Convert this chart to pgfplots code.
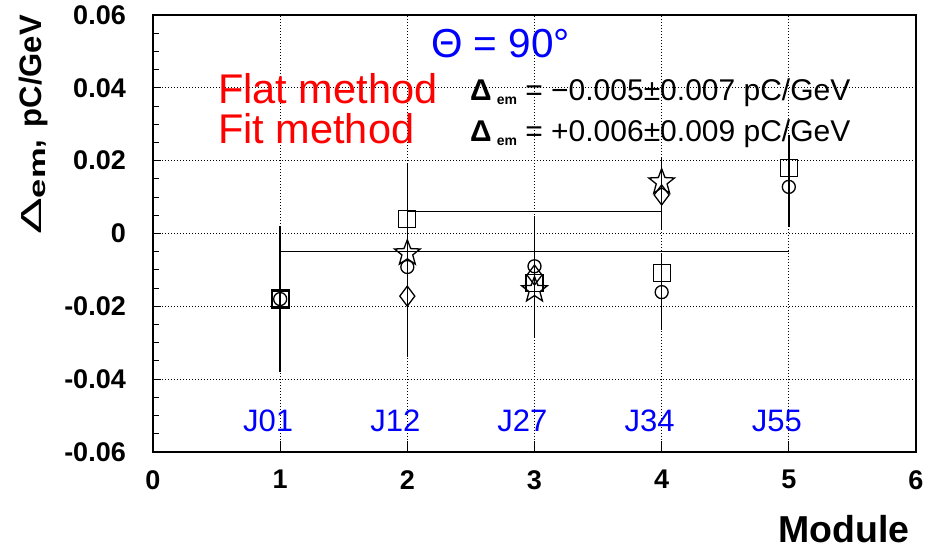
\documentclass[border=0pt]{standalone}
\usepackage{fontspec}
\setmainfont{Liberation Sans}
\usepackage{graphicx}
\usepackage{pgfplots}
\pgfplotsset{compat=1.18}

\definecolor{txtred}{RGB}{255,0,0}
\definecolor{txtblue}{RGB}{0,0,255}

% open five-pointed star
\pgfdeclareplotmark{ostar}{%
  \pgfpathmoveto{\pgfpointpolar{90}{\pgfplotmarksize}}%
  \pgfpathlineto{\pgfpointpolar{126}{0.42\pgfplotmarksize}}%
  \pgfpathlineto{\pgfpointpolar{162}{\pgfplotmarksize}}%
  \pgfpathlineto{\pgfpointpolar{198}{0.42\pgfplotmarksize}}%
  \pgfpathlineto{\pgfpointpolar{234}{\pgfplotmarksize}}%
  \pgfpathlineto{\pgfpointpolar{270}{0.42\pgfplotmarksize}}%
  \pgfpathlineto{\pgfpointpolar{306}{\pgfplotmarksize}}%
  \pgfpathlineto{\pgfpointpolar{342}{0.42\pgfplotmarksize}}%
  \pgfpathlineto{\pgfpointpolar{18}{\pgfplotmarksize}}%
  \pgfpathlineto{\pgfpointpolar{54}{0.42\pgfplotmarksize}}%
  \pgfpathclose\pgfusepathqstroke}
% open diamond, taller than wide
\pgfdeclareplotmark{odiamond}{%
  \pgfpathmoveto{\pgfqpoint{0pt}{\pgfplotmarksize}}%
  \pgfpathlineto{\pgfqpoint{0.75\pgfplotmarksize}{0pt}}%
  \pgfpathlineto{\pgfqpoint{0pt}{-\pgfplotmarksize}}%
  \pgfpathlineto{\pgfqpoint{-0.75\pgfplotmarksize}{0pt}}%
  \pgfpathclose\pgfusepathqstroke}

\pgfplotsset{
  ebar/.style={error bars/.cd, y dir=both, y explicit, error mark=none,
    error bar style={line width=1.6pt, black}},
}
\tikzset{
  modname/.style={anchor=base west, inner sep=0pt, text=txtblue, font=\fontsize{31}{31}\selectfont},
}

\begin{document}
\begin{tikzpicture}
\begin{axis}[
  scale only axis, width=763pt, height=437pt,
  xmin=0, xmax=6, ymin=-0.06, ymax=0.06,
  scaled y ticks=false, scaled x ticks=false,
  xtick={0,1,2,3,4,5,6}, xticklabels={0,1,2,3,4,5,6},
  ytick={-0.06,-0.04,-0.02,0,0.02,0.04,0.06},
  yticklabels={-0.06,-0.04,-0.02,0,0.02,0.04,0.06},
  minor y tick num=3,
  xtick pos=bottom, ytick pos=left,
  tick align=inside,
  xtick style={/pgfplots/major tick length=11pt},
  ytick style={/pgfplots/major tick length=8pt, /pgfplots/minor tick length=6pt},
  tick style={black, line width=1pt},
  grid=major,
  major grid style={black, line width=0.8pt, dash pattern=on 0.9pt off 2.1pt},
  axis line style={line width=1.8pt},
  yticklabel style={font=\bfseries\fontsize{27}{27}\selectfont, anchor=east, inner sep=0pt, xshift=-27pt},
  xticklabel style={font=\bfseries\fontsize{27}{27}\selectfont, anchor=north, inner sep=0pt, yshift=-18pt},
  clip=false,
]
\coordinate (sw) at (rel axis cs:0,0);

% mean values of the two methods
\addplot[black, line width=1pt] coordinates {(1,-0.005) (5,-0.005)};
\addplot[black, line width=1pt] coordinates {(2,0.006) (4,0.006)};

% squares
\addplot[black, only marks, mark=square, mark size=8.5pt,
  mark options={solid, line width=1.3pt, fill=none}, ebar] coordinates {
  (1,-0.018) +- (0,0.020)
  (2,0.004)  +- (0,0.015)
  (3,-0.0136) += (0,0.0184) -= (0,0.0151)
  (4,-0.0108) += (0,0.0054) -= (0,0.0157)
  (5,0.018)  += (0,0.009) -= (0,0.0162)
};
\addplot[black, only marks, mark=square, mark size=8.5pt,
  mark options={solid, line width=2.2pt, fill=none}] coordinates {(1,-0.018)};

% diamonds
\addplot[black, only marks, mark=odiamond, mark size=10pt,
  mark options={solid, line width=1.3pt, fill=none}, ebar] coordinates {
  (2,-0.0172) += (0,0.0172) -= (0,0.0167)
  (3,-0.0114) +- (0,0)
  (4,0.0106) += (0,0.0104) -= (0,0.0096)
};

% circles
\addplot[black, only marks, mark=o, mark size=6.5pt,
  mark options={solid, line width=1.3pt}] coordinates {
  (1,-0.018) (2,-0.0092) (3,-0.009) (4,-0.0161) (5,0.0128)
};

% stars
\addplot[black, only marks, mark=ostar, mark size=13.5pt,
  mark options={solid, line width=1.3pt, fill=none}] coordinates {
  (2,-0.0054) (3,-0.0155) (4,0.0141)
};

% annotations
\node[anchor=base west, inner sep=0pt, text=txtblue, font=\fontsize{40.5}{40.5}\selectfont]
  at (axis cs:2.186,0.0482) {Θ = 90°};
\node[anchor=base west, inner sep=0pt, text=txtred, font=\fontsize{41.5}{41.5}\selectfont]
  at (axis cs:0.511,0.0358) {Flat method};
\node[anchor=base west, inner sep=0pt, text=txtred, font=\fontsize{41.5}{41.5}\selectfont]
  at (axis cs:0.511,0.0248) {Fit method};
\node[anchor=base west, inner sep=0pt, font=\fontsize{30}{30}\selectfont]
  at (axis cs:2.493,0.0364) {{\bfseries Δ}\,\raisebox{-4pt}{\bfseries\fontsize{14}{14}\selectfont em} = −0.005±0.007 pC/GeV};
\node[anchor=base west, inner sep=0pt, font=\fontsize{30}{30}\selectfont]
  at (axis cs:2.493,0.0254) {{\bfseries Δ}\,\raisebox{-4pt}{\bfseries\fontsize{14}{14}\selectfont em} = +0.006±0.009 pC/GeV};

% module names
\node[modname] at (axis cs:0.707,-0.0545) {J01};
\node[modname] at (axis cs:1.707,-0.0545) {J12};
\node[modname] at (axis cs:2.707,-0.0545) {J27};
\node[modname] at (axis cs:3.707,-0.0545) {J34};
\node[modname] at (axis cs:4.707,-0.0545) {J55};

% axis titles
\node[rotate=90, anchor=base east, inner sep=0pt]
  at ([xshift=-111pt]rel axis cs:0,1)
  {\scalebox{1.9}[1]{\fontsize{29}{29}\selectfont Δ}\raisebox{-4pt}{\scalebox{1.5}[1]{\bfseries\fontsize{23}{23}\selectfont em}}{\bfseries\fontsize{31}{31}\selectfont ,\hspace{0.4em}pC/GeV}};
\node[anchor=base east, inner sep=0pt, font=\bfseries\fontsize{37.5}{37.5}\selectfont]
  at ([xshift=-6pt, yshift=-90pt]rel axis cs:1,0) {Module};
\end{axis}
\pgfresetboundingbox
\path ([shift={(-153pt,-105pt)}]sw) rectangle ++(930pt,557pt);
\end{tikzpicture}
\end{document}
